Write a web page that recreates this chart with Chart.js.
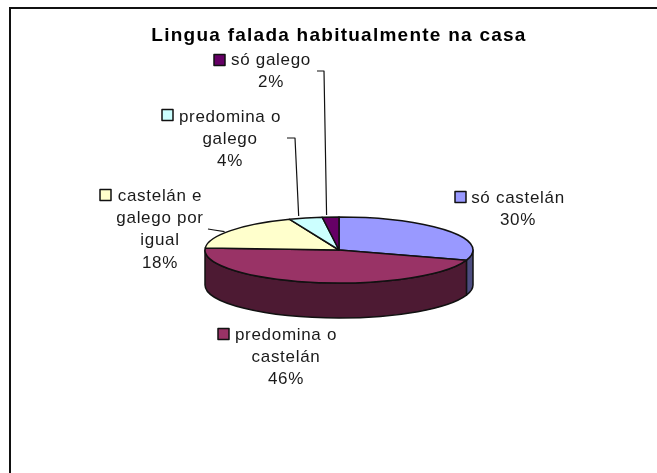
<!DOCTYPE html>
<html><head><meta charset="utf-8">
<style>html,body{margin:0;padding:0;background:#fff}canvas{display:block}</style>
<script src="https://cdn.jsdelivr.net/npm/chart.js@4"></script></head>
<body><canvas id="c" width="657" height="473"></canvas>
<script>
const titleText = 'Lingua falada habitualmente na casa';
const categories = ['só castelán','predomina o castelán','castelán e galego por igual','predomina o galego','só galego'];
const values = [30,46,18,4,2];
const topColors = ['#9999FF','#993366','#FFFFCC','#CCFFFF','#660066'];
const wallColors = ['#4D4D80','#4D1A33','#808066','#668080','#330033'];
const labelLines = [['só castelán'],['predomina o','castelán'],['castelán e','galego por','igual'],['predomina o','galego'],['só galego']];
const labelCentres = [[518,198],[286,335],[160,196],[230,117],[271,60]];
const keyOffsets = [[455,197],[218,334],[100,195],[162,115],[214,60]];
const leaders = [null,null,[[208,229],[214,230]],[[287,138],[295,138]],[[317,71],[324,71]]];
const leaderNudges = [null,null,[-6,1],[-7,-2],[-4,-2]];
const squash = 33/134, depth = 35;

const pie3d = {
  id:'pie3d',
  beforeDraw(chart){
    const c=chart.ctx; c.save();
    c.fillStyle='#fff'; c.fillRect(0,0,chart.width,chart.height);
    c.strokeStyle='#111'; c.lineWidth=2; c.beginPath();
    c.moveTo(10,473); c.lineTo(10,8); c.lineTo(657,8); c.stroke();
    c.restore();
    c.letterSpacing='1.25px';
  },
  beforeDatasetDraw(chart){
    const c=chart.ctx, arcs=chart.getDatasetMeta(0).data;
    const a0=arcs[0], x=a0.x, y=a0.y, rx=a0.outerRadius, ry=rx*squash;
    c.save(); c.lineWidth=1.5; c.strokeStyle='#111'; c.lineJoin='round';
    arcs.forEach((a,i)=>{
      const s=Math.max(a.startAngle,0), e=Math.min(a.endAngle,Math.PI);
      if(e<=s) return;
      c.beginPath();
      c.ellipse(x,y,rx,ry,0,s,e);
      c.ellipse(x,y+depth,rx,ry,0,e,s,true);
      c.closePath(); c.fillStyle=wallColors[i]; c.fill(); c.stroke();
    });
    arcs.forEach((a,i)=>{
      c.beginPath(); c.moveTo(x,y);
      c.ellipse(x,y,rx,ry,0,a.startAngle,a.endAngle);
      c.closePath(); c.fillStyle=topColors[i]; c.fill(); c.stroke();
    });
    // labels
    c.textAlign='center'; c.textBaseline='middle';
    c.font='17px "Liberation Sans", Arial, sans-serif';
    c.letterSpacing='0.7px';
    arcs.forEach((a,i)=>{
      const lines=[...labelLines[i], values[i]+'%'];
      const [cx,cy]=labelCentres[i];
      c.fillStyle='#1a1a1a';
      lines.forEach((t,j)=>c.fillText(t,cx,cy+j*22.4));
      const [kx,ky]=keyOffsets[i];
      c.fillStyle=topColors[i]; c.strokeStyle='#111'; c.lineWidth=1.5;
      c.fillRect(kx,ky-5.5,11,11); c.strokeRect(kx,ky-5.5,11,11);
      if(leaders[i]){
        const m=(a.startAngle+a.endAngle)/2, n=leaderNudges[i];
        c.beginPath(); c.lineWidth=1.2;
        leaders[i].forEach((p,j)=>j?c.lineTo(p[0],p[1]):c.moveTo(p[0],p[1]));
        c.lineTo(x+rx*Math.cos(m)+n[0], y+ry*Math.sin(m)+n[1]);
        c.stroke();
      }
    });
    c.restore();
    return false;
  }
};

new Chart(document.getElementById('c'),{
  type:'pie',
  data:{labels:categories,datasets:[{data:values,backgroundColor:topColors,borderWidth:0}]},
  plugins:[pie3d],
  options:{
    responsive:false,animation:false,
    layout:{padding:{left:21,right:0,top:0,bottom:89}},
    plugins:{
      legend:{display:false},tooltip:{enabled:false},
      title:{display:true,text:titleText,color:'#000',
        font:{family:'"Liberation Sans", Arial, sans-serif',size:19,weight:'bold',lineHeight:1.2},
        padding:{top:24.5,bottom:68.7}}
    }
  }
});
</script></body></html>
